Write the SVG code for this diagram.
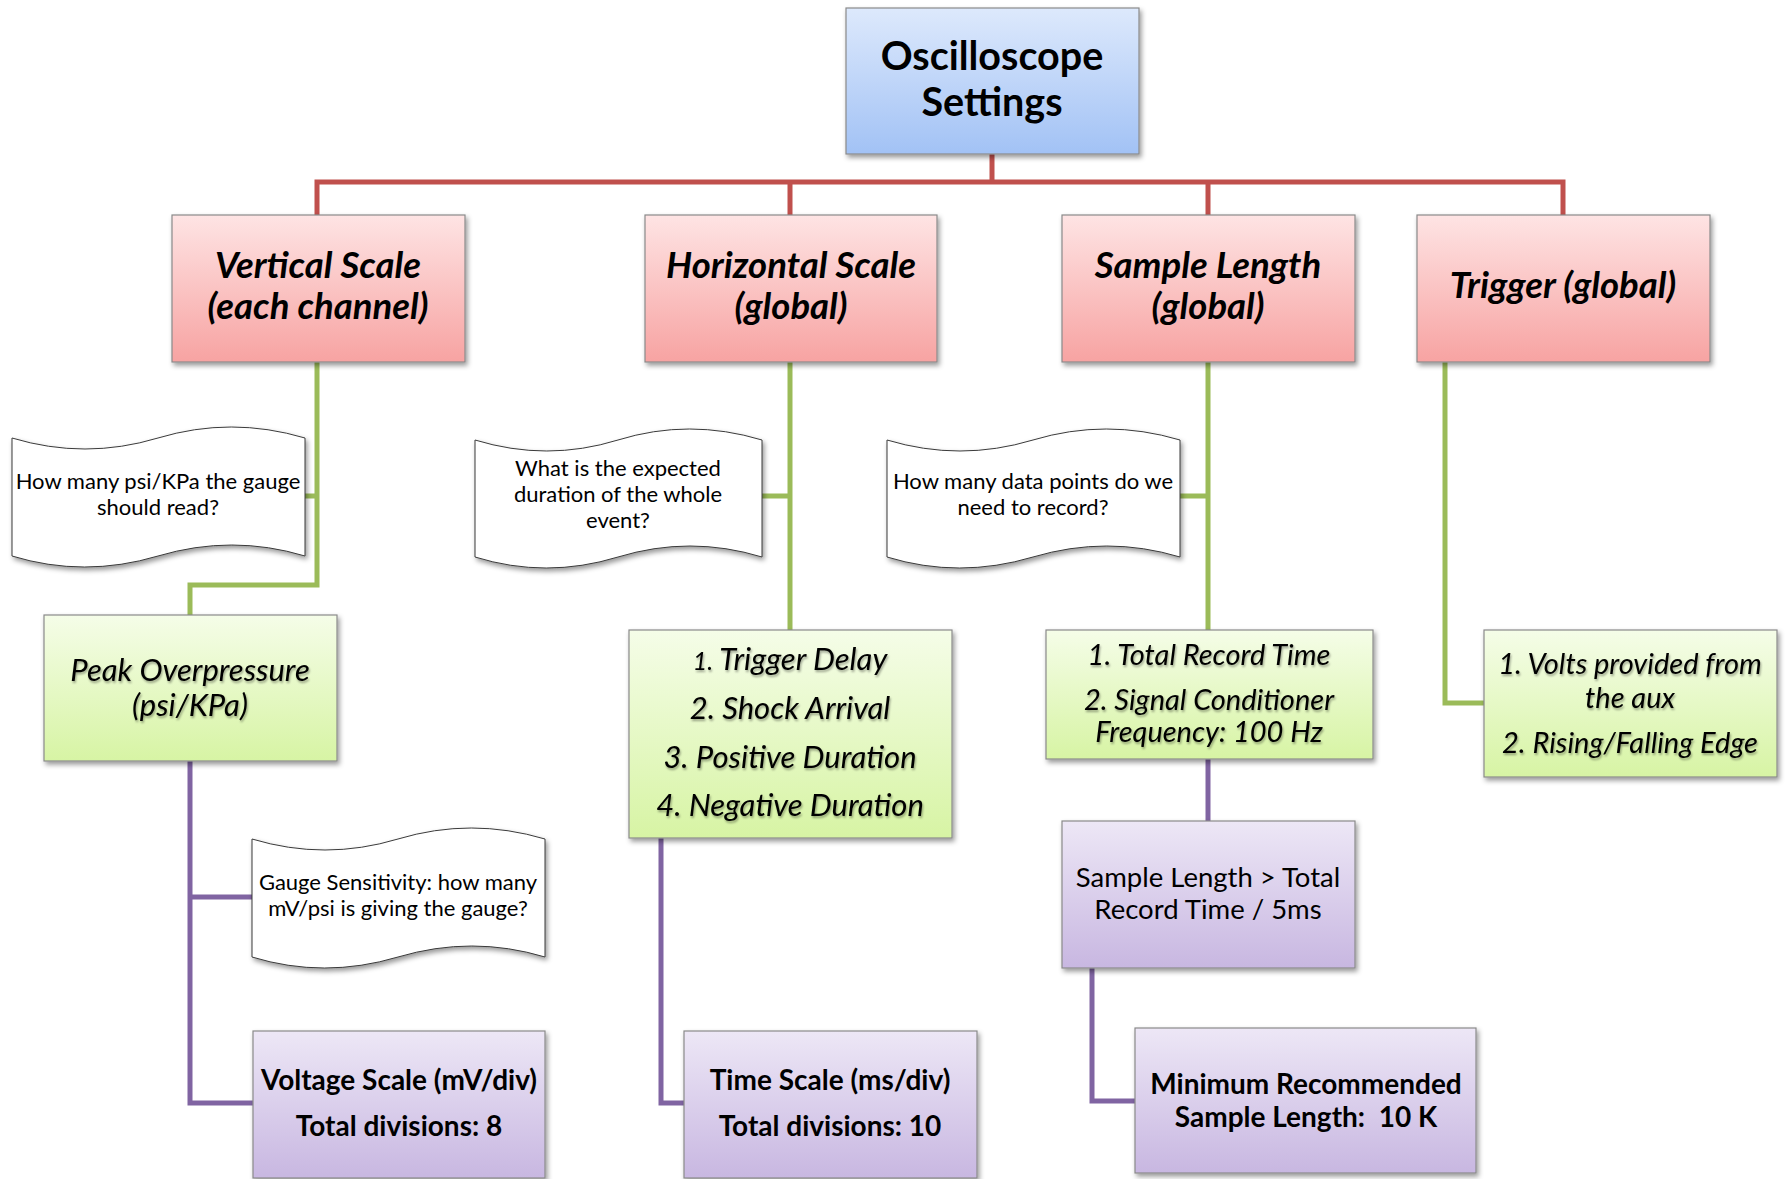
<svg xmlns="http://www.w3.org/2000/svg" width="1787" height="1179" viewBox="0 0 1787 1179">
<defs>
<linearGradient id="gBlue" x1="0" y1="0" x2="0" y2="1"><stop offset="0" stop-color="#dde9fc"/><stop offset="1" stop-color="#a2c2f5"/></linearGradient>
<linearGradient id="gRed" x1="0" y1="0" x2="0" y2="1"><stop offset="0" stop-color="#fee4e4"/><stop offset="1" stop-color="#f7a3a2"/></linearGradient>
<linearGradient id="gGreen" x1="0" y1="0" x2="0" y2="1"><stop offset="0" stop-color="#f5fde8"/><stop offset="1" stop-color="#d7f4a4"/></linearGradient>
<linearGradient id="gPurple" x1="0" y1="0" x2="0" y2="1"><stop offset="0" stop-color="#ede7f6"/><stop offset="1" stop-color="#c8b7e1"/></linearGradient>
<filter id="sh" x="-10%" y="-10%" width="125%" height="130%"><feDropShadow dx="2" dy="3" stdDeviation="2.5" flood-color="#000" flood-opacity="0.4"/></filter>
<filter id="tsh" x="-10%" y="-20%" width="120%" height="150%"><feDropShadow dx="1" dy="2" stdDeviation="1.2" flood-color="#000" flood-opacity="0.35"/></filter>
<style>
.box{stroke:#8a8a8a;stroke-width:1.2;filter:url(#sh)}
.doc{fill:#fff;stroke:#3a3a3a;stroke-width:1;filter:url(#sh)}
.t{font-family:Lato,"Open Sans","Liberation Sans",sans-serif;fill:#000;text-anchor:middle}
.root{font-size:39.5px;font-weight:bold}
.l1{font-size:36.5px;font-weight:bold;font-style:italic}
.q{font-size:22px}
.gi{font-size:31px;font-style:italic;filter:url(#tsh)}
.gs{font-size:29px;font-style:italic;filter:url(#tsh)}
.pb{font-size:28px;font-weight:bold}
.pr{font-size:27.5px}
.red{stroke:#c0504d;stroke-width:5;fill:none}
.grn{stroke:#9bbb59;stroke-width:5;fill:none}
.pur{stroke:#8064a2;stroke-width:5;fill:none}
</style>
</defs>
<rect width="1787" height="1179" fill="#fff"/>
<g id="connectors">
<path class="red" d="M992,154 V182 M317,215 V182 H1563 V215 M790,182 V215 M1208,182 V215"/>
<path class="grn" d="M317,362 V585 H190 V615 M305,496 H317"/>
<path class="grn" d="M790,362 V630 M762,496 H790"/>
<path class="grn" d="M1208,362 V630 M1180,496 H1208"/>
<path class="grn" d="M1445,362 V703 H1484"/>
<path class="pur" d="M190,761 V1103 H253 M190,897 H252"/>
<path class="pur" d="M661,838 V1103 H684"/>
<path class="pur" d="M1208,759 V821"/>
<path class="pur" d="M1092,968 V1101 H1135"/>
</g>
<g id="root"><rect class="box" x="846" y="8" width="293" height="146" fill="url(#gBlue)"/>
<text class="t root" x="992" y="70">Oscilloscope</text><text class="t root" x="992" y="116">Settings</text></g>
<g id="vertical"><rect class="box" x="172" y="215" width="293" height="147" fill="url(#gRed)"/>
<text class="t l1" x="318" y="278">Vertical Scale</text><text class="t l1" x="318" y="319">(each channel)</text></g>
<g id="horizontal"><rect class="box" x="645" y="215" width="292" height="147" fill="url(#gRed)"/>
<text class="t l1" x="791" y="278">Horizontal Scale</text><text class="t l1" x="791" y="319">(global)</text></g>
<g id="samplelength"><rect class="box" x="1062" y="215" width="293" height="147" fill="url(#gRed)"/>
<text class="t l1" x="1208" y="278">Sample Length</text><text class="t l1" x="1208" y="319">(global)</text></g>
<g id="trigger"><rect class="box" x="1417" y="215" width="293" height="147" fill="url(#gRed)"/>
<text class="t l1" x="1563" y="298">Trigger (global)</text></g>
<g id="q-psi"><path class="doc" d="M12,438 Q85,460 158,438 T305,438 L305,556 Q232,534 158,556 T12,556 Z"/>
<text class="t q" x="158" y="489">How many psi/KPa the gauge</text><text class="t q" x="158" y="515">should read?</text></g>
<g id="q-duration"><path class="doc" d="M475,440 Q547,462 618,440 T762,440 L762,557 Q690,535 618,557 T475,557 Z"/>
<text class="t q" x="618" y="476">What is the expected</text><text class="t q" x="618" y="502">duration of the whole</text><text class="t q" x="618" y="528">event?</text></g>
<g id="q-points"><path class="doc" d="M887,440 Q960,462 1033,440 T1180,440 L1180,557 Q1107,535 1033,557 T887,557 Z"/>
<text class="t q" x="1033" y="489">How many data points do we</text><text class="t q" x="1033" y="515">need to record?</text></g>
<g id="q-sensitivity"><path class="doc" d="M252,839 Q325,861 398,839 T545,839 L545,957 Q472,935 398,957 T252,957 Z"/>
<text class="t q" x="398" y="890">Gauge Sensitivity: how many</text><text class="t q" x="398" y="916">mV/psi is giving the gauge?</text></g>
<g id="peak"><rect class="box" x="44" y="615" width="293" height="146" fill="url(#gGreen)"/>
<text class="t gi" x="190" y="681">Peak Overpressure</text><text class="t gi" x="190" y="716">(psi/KPa)</text></g>
<g id="hs-list"><rect class="box" x="629" y="630" width="323" height="208" fill="url(#gGreen)"/>
<text class="t gi" x="790" y="670"><tspan font-size="25">1.</tspan> Trigger Delay</text>
<text class="t gi" x="790" y="719">2. Shock Arrival</text>
<text class="t gi" x="790" y="768">3. Positive Duration</text>
<text class="t gi" x="790" y="816">4. Negative Duration</text></g>
<g id="sl-list"><rect class="box" x="1046" y="630" width="327" height="129" fill="url(#gGreen)"/>
<text class="t gs" x="1209" y="665">1. Total Record Time</text>
<text class="t gs" x="1209" y="710">2. Signal Conditioner</text>
<text class="t gs" x="1209" y="742">Frequency: 100 Hz</text></g>
<g id="tr-list"><rect class="box" x="1484" y="630" width="293" height="147" fill="url(#gGreen)"/>
<text class="t gs" x="1630" y="674">1. Volts provided from</text>
<text class="t gs" x="1630" y="708">the aux</text>
<text class="t gs" x="1630" y="753">2. Rising/Falling Edge</text></g>
<g id="voltage"><rect class="box" x="253" y="1031" width="292" height="147" fill="url(#gPurple)"/>
<text class="t pb" x="399" y="1090">Voltage Scale (mV/div)</text><text class="t pb" x="399" y="1136">Total divisions: 8</text></g>
<g id="time"><rect class="box" x="684" y="1031" width="293" height="147" fill="url(#gPurple)"/>
<text class="t pb" x="830" y="1090">Time Scale (ms/div)</text><text class="t pb" x="830" y="1136">Total divisions: 10</text></g>
<g id="sl-formula"><rect class="box" x="1062" y="821" width="293" height="147" fill="url(#gPurple)"/>
<text class="t pr" x="1208" y="887">Sample Length &gt; Total</text><text class="t pr" x="1208" y="919">Record Time / 5ms</text></g>
<g id="min-sl"><rect class="box" x="1135" y="1028" width="341" height="145" fill="url(#gPurple)"/>
<text class="t pb" x="1306" y="1094">Minimum Recommended</text><text class="t pb" x="1306" y="1127" xml:space="preserve">Sample Length:  10 K</text></g>
</svg>
